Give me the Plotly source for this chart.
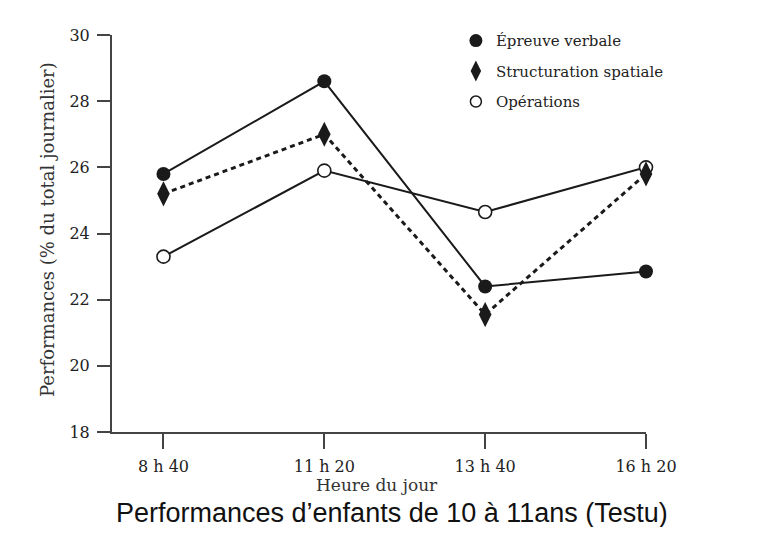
import plotly.graph_objects as go

heures = ["8 h 40", "11 h 20", "13 h 40", "16 h 20"]
verbale = [25.8, 28.6, 22.4, 22.85]
spatiale = [25.2, 27.0, 21.55, 25.8]
operations = [23.3, 25.9, 24.65, 26.0]
y_ticks = [18, 20, 22, 24, 26, 28, 30]

xi = list(range(len(heures)))
ink = "#1a1a1a"
serif = "DejaVu Serif, Liberation Serif, serif"
tick_font = dict(family=serif, size=16, color="#222")

# page body has an 8px margin: figure is sized so that it fills the 766x535 window
W, H = 750, 519

fig = go.Figure()

fig.add_trace(go.Scatter(
    x=xi, y=operations, mode="lines+markers", showlegend=False,
    line=dict(color=ink, width=2),
    marker=dict(symbol="circle", size=13, color="white", line=dict(color=ink, width=1.6)),
    cliponaxis=False))
fig.add_trace(go.Scatter(
    x=xi, y=spatiale, mode="lines+markers", showlegend=False,
    line=dict(color=ink, width=3, dash="5px,4px"),
    marker=dict(symbol="diamond-tall", size=18, color=ink),
    cliponaxis=False))
fig.add_trace(go.Scatter(
    x=xi, y=verbale, mode="lines+markers", showlegend=False,
    line=dict(color=ink, width=2),
    marker=dict(symbol="circle", size=14, color=ink),
    cliponaxis=False))

# legend entries (markers only)
fig.add_trace(go.Scatter(x=[None], y=[None], mode="markers", name="Épreuve verbale",
                         legendgroup="a", marker=dict(symbol="circle", size=13, color=ink)))
fig.add_trace(go.Scatter(x=[None], y=[None], mode="markers", name="Structuration spatiale",
                         legendgroup="b", marker=dict(symbol="diamond-tall", size=15, color=ink)))
fig.add_trace(go.Scatter(x=[None], y=[None], mode="markers", name="Opérations",
                         legendgroup="c", marker=dict(symbol="circle", size=11, color="white",
                                                      line=dict(color=ink, width=1.5))))

fig.update_layout(
    width=W, height=H,
    margin=dict(l=104, r=112, t=27, b=95),
    paper_bgcolor="white", plot_bgcolor="white",
    font=dict(family=serif, size=16, color="#222"),
    showlegend=True,
    legend=dict(x=0.644, y=1.027, xanchor="left", yanchor="top",
                bgcolor="rgba(0,0,0,0)", font=dict(family=serif, size=15, color="#222"),
                tracegroupgap=8, itemclick=False),
    xaxis=dict(
        range=[-0.32, 3.0], tickmode="array", tickvals=xi, ticktext=heures,
        showline=True, linecolor="#444", linewidth=2, ticks="outside", ticklen=15,
        tickwidth=2, tickcolor="#444", showgrid=False, zeroline=False,
        tickfont=tick_font, automargin=False, ticklabelstandoff=4,
    ),
    yaxis=dict(
        range=[18, 30], tickmode="array", tickvals=y_ticks,
        showline=True, linecolor="#444", linewidth=2, ticks="outside", ticklen=13,
        tickwidth=2, tickcolor="#444", showgrid=False, zeroline=False,
        tickfont=tick_font, automargin=False, ticklabelstandoff=4,
    ),
    annotations=[
        dict(text="Heure du jour", xref="paper", yref="paper",
             x=(377 - 112) / 534, y=-(477 - 424) / 397, xanchor="center", yanchor="middle",
             showarrow=False, font=dict(family=serif, size=17, color="#333")),
        dict(text="Performances (% du total journalier)", xref="paper", yref="paper",
             x=-(104 - 40) / 534, y=(424 - 222) / 397, xanchor="center", yanchor="middle",
             textangle=-90, showarrow=False, font=dict(family=serif, size=18, color="#333")),
        dict(text="Performances d’enfants de 10 à 11ans (Testu)",
             xref="paper", yref="paper", x=(384 - 104) / 534, y=-(505 - 424) / 397,
             xanchor="center", yanchor="middle", showarrow=False,
             font=dict(family="Liberation Sans, Arial, sans-serif", size=27, color="#111")),
    ],
)

fig.write_html("out.html")
